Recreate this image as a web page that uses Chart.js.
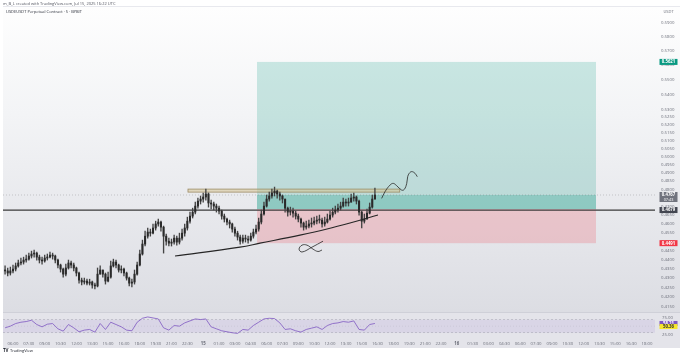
<!DOCTYPE html>
<html>
<head>
<meta charset="utf-8">
<script src="https://cdn.jsdelivr.net/npm/chart.js@4.4.1/dist/chart.umd.min.js"></script>
<style>
  body { margin:0; width:680px; height:355px; background:#fff; overflow:hidden; position:relative; }
  #bgPrice { position:absolute; left:3px; top:6px; width:677px; height:306px; border-top:1px solid #e8e9ee; box-sizing:border-box;
             background:linear-gradient(#fefefe, #f3f4f6 35%, #dcdde3); }
  #bgRsi { position:absolute; left:3px; top:312px; width:677px; height:36px; background:#e4e4ea; border-top:1px solid #cfd0d8; box-sizing:border-box; }
  canvas { position:absolute; left:0; }
  #priceChart { top:0; }
  #rsiChart { top:312px; }
</style>
</head>
<body>
<div id="bgPrice"></div>
<div id="bgRsi"></div>
<canvas id="priceChart" width="680" height="312"></canvas>
<canvas id="rsiChart" width="680" height="43"></canvas>
<script>
// 15 min candles, hours counted from Jul 14 00:00 UTC
const candleStartHour = 5.25;
const candleStepHour = 0.25;
const firstOpen = 0.4344;
const closes = [
  0.4339,0.4328,0.4339,0.4349,0.4366,0.4382,0.4387,0.4398,0.4403,0.4420,
  0.4431,0.4436,0.4414,0.4398,0.4393,0.4409,0.4414,0.4425,0.4420,0.4398,
  0.4371,0.4349,0.4322,0.4355,0.4382,0.4371,0.4355,0.4328,0.4290,0.4280,
  0.4285,0.4274,0.4280,0.4264,0.4259,0.4322,0.4344,0.4322,0.4285,0.4306,
  0.4366,0.4387,0.4371,0.4344,0.4349,0.4328,0.4301,0.4274,0.4280,0.4322,
  0.4371,0.4431,0.4486,0.4530,0.4553,0.4547,0.4576,0.4599,0.4610,0.4581,
  0.4530,0.4502,0.4491,0.4497,0.4519,0.4497,0.4519,0.4547,0.4576,0.4615,
  0.4644,0.4667,0.4702,0.4731,0.4743,0.4755,0.4773,0.4720,0.4714,0.4702,
  0.4690,0.4673,0.4644,0.4627,0.4610,0.4599,0.4570,0.4547,0.4525,0.4502,
  0.4519,0.4514,0.4508,0.4530,0.4553,0.4570,0.4610,0.4656,0.4702,0.4743,
  0.4761,0.4779,0.4790,0.4773,0.4761,0.4743,0.4690,0.4667,0.4673,0.4661,
  0.4644,0.4627,0.4604,0.4581,0.4587,0.4599,0.4604,0.4615,0.4621,0.4621,
  0.4599,0.4610,0.4627,0.4650,0.4667,0.4679,0.4690,0.4702,0.4725,0.4720,
  0.4725,0.4749,0.4755,0.4731,0.4667,0.4615,0.4627,0.4661,0.4696,0.4743,
  0.4767
];
const highs = [
  0.4366,0.4355,0.4360,0.4371,0.4382,0.4398,0.4409,0.4414,0.4425,0.4436,
  0.4447,0.4453,0.4442,0.4425,0.4414,0.4425,0.4431,0.4442,0.4436,0.4425,
  0.4403,0.4376,0.4355,0.4376,0.4398,0.4393,0.4382,0.4360,0.4333,0.4301,
  0.4301,0.4295,0.4295,0.4285,0.4274,0.4355,0.4366,0.4344,0.4328,0.4333,
  0.4393,0.4403,0.4398,0.4376,0.4366,0.4355,0.4333,0.4306,0.4295,0.4344,
  0.4387,0.4453,0.4508,0.4558,0.4576,0.4570,0.4599,0.4615,0.4627,0.4615,
  0.4587,0.4542,0.4519,0.4514,0.4536,0.4530,0.4547,0.4570,0.4599,0.4638,
  0.4667,0.4690,0.4725,0.4749,0.4761,0.4779,0.4802,0.4779,0.4737,0.4725,
  0.4714,0.4702,0.4679,0.4656,0.4633,0.4621,0.4604,0.4581,0.4558,0.4536,
  0.4536,0.4536,0.4530,0.4547,0.4570,0.4593,0.4633,0.4679,0.4725,0.4767,
  0.4784,0.4802,0.4814,0.4796,0.4784,0.4767,0.4743,0.4696,0.4696,0.4690,
  0.4673,0.4656,0.4633,0.4610,0.4615,0.4621,0.4633,0.4638,0.4644,0.4650,
  0.4633,0.4638,0.4656,0.4673,0.4690,0.4702,0.4714,0.4725,0.4749,0.4743,
  0.4749,0.4773,0.4779,0.4761,0.4737,0.4673,0.4656,0.4685,0.4720,0.4767,
  0.4808
];
const lows = [
  0.4322,0.4312,0.4317,0.4328,0.4339,0.4360,0.4371,0.4376,0.4387,0.4398,
  0.4409,0.4414,0.4398,0.4382,0.4376,0.4387,0.4398,0.4409,0.4403,0.4382,
  0.4355,0.4333,0.4306,0.4312,0.4349,0.4355,0.4339,0.4312,0.4274,0.4264,
  0.4269,0.4264,0.4264,0.4248,0.4243,0.4254,0.4322,0.4306,0.4269,0.4280,
  0.4301,0.4360,0.4355,0.4333,0.4328,0.4312,0.4290,0.4259,0.4254,0.4269,
  0.4317,0.4366,0.4425,0.4475,0.4519,0.4530,0.4542,0.4564,0.4587,0.4558,
  0.4436,0.4480,0.4475,0.4475,0.4486,0.4480,0.4486,0.4508,0.4530,0.4564,
  0.4604,0.4633,0.4656,0.4690,0.4714,0.4725,0.4737,0.4696,0.4685,0.4679,
  0.4667,0.4656,0.4627,0.4610,0.4593,0.4576,0.4553,0.4530,0.4508,0.4486,
  0.4491,0.4497,0.4491,0.4502,0.4519,0.4542,0.4558,0.4599,0.4650,0.4696,
  0.4731,0.4749,0.4761,0.4749,0.4737,0.4720,0.4667,0.4644,0.4650,0.4638,
  0.4627,0.4610,0.4581,0.4564,0.4570,0.4576,0.4581,0.4593,0.4599,0.4604,
  0.4581,0.4587,0.4604,0.4621,0.4638,0.4656,0.4667,0.4679,0.4696,0.4702,
  0.4702,0.4725,0.4731,0.4714,0.4650,0.4576,0.4604,0.4627,0.4656,0.4690,
  0.4743
];

// RSI(14), one reading every 30 min
const rsiStepHour = 0.5;
const rsiValues = [
  45,50,58,62,64,68,55,48,56,58,42,35,55,45,33,38,40,32,58,40,
  62,55,48,38,36,62,74,78,75,72,45,38,52,50,60,66,72,70,72,48,
  42,36,33,30,28,40,38,52,62,72,74,73,60,40,42,36,32,40,44,48,
  40,52,58,60,64,62,66,40,38,55,58.21
];
const rsiMaLast = 50.36;
const rsiTicks = [25, 75];

const timeLabels = ['06:00','07:30','09:00','10:30','12:00','13:30','15:00','16:30','18:00','19:30','21:00','22:30',
  '15','01:30','03:00','04:30','06:00','07:30','09:00','10:30','12:00','13:30','15:00','16:30','18:00','19:30','21:00','22:30',
  '16','01:30','03:00','04:30','06:00','07:30','09:00','10:30','12:00','13:30','15:00','16:30','18:00'];
const firstLabelHour = 6;
const labelStepHour = 1.5;

const priceTicks = [0.415,0.42,0.425,0.43,0.435,0.44,0.445,0.45,0.455,0.46,0.465,0.47,0.475,0.48,0.485,
  0.49,0.495,0.50,0.505,0.51,0.515,0.52,0.525,0.53,0.54,0.55,0.56,0.57,0.58,0.59];

// long position tool + drawings
const tpPrice = 0.5621, entryPrice = 0.4685, stopPrice = 0.4491;
const posStartHour = 29.09, posEndHour = 61.17;
const levelPrice = 0.4679;
const zoneLow = 0.4784, zoneHigh = 0.4802, zoneStartHour = 22.56, zoneEndHour = 42.6;
const trendHours = [21.33,27.48,29.37,33.16,35.72,37.89,40.54];
const trendPrices = [0.4420,0.4469,0.4491,0.4536,0.4570,0.4604,0.4650];
const alphaHours = [35.34,34.30,33.35,33.07,33.35,33.82,34.39,34.86,35.24];
const alphaPrices = [0.4502,0.4469,0.4442,0.4458,0.4480,0.4480,0.4458,0.4445,0.4453];
const arrowHours = [40.89,41.20,41.68,41.99,42.31,42.78,43.03,43.26,43.35,43.50,43.73,44.04,44.26];
const arrowPrices = [0.4747,0.4786,0.4826,0.4836,0.4822,0.4796,0.4800,0.4836,0.4876,0.4897,0.4907,0.4897,0.4876];

const xMin = 5.054, xMax = 66.755;
const yMin = 0.4124, yMax = 0.6024;
const rsiMin = 8, rsiMax = 90;

const FONT = '"Open Sans", "DejaVu Sans", sans-serif';
const axisColor = '#6a6d78';

let opens = [firstOpen].concat(closes.slice(0, -1));
let candleHours = closes.map((c, i) => candleStartHour + candleStepHour * i);
let lastClose = closes[closes.length - 1];

function noPad(s) { s.paddingTop = 0; s.paddingBottom = 0; s.paddingLeft = 0; s.paddingRight = 0; }

function drawTag(ctx, yPix, text, bg, fg, h) {
  h = h || 6;
  ctx.fillStyle = bg;
  ctx.fillRect(659.5, yPix - h / 2, 18, h);
  ctx.fillStyle = fg;
  ctx.font = 'bold 4.3px ' + FONT;
  ctx.textAlign = 'center';
  ctx.textBaseline = 'middle';
  ctx.fillText(text, 668.5, yPix + 0.2);
}

const priceOverlay = {
  id: 'priceOverlay',
  beforeDatasetsDraw(chart) {
    const {ctx, chartArea: a, scales: {x, y}} = chart;
    ctx.save();
    let x0 = x.getPixelForValue(posStartHour), x1 = x.getPixelForValue(posEndHour);
    let yTp = y.getPixelForValue(tpPrice), yEn = y.getPixelForValue(entryPrice);
    let ySl = y.getPixelForValue(stopPrice), yLast = y.getPixelForValue(lastClose);
    ctx.fillStyle = 'rgba(8,153,129,0.2)';
    ctx.fillRect(x0, yTp, x1 - x0, yEn - yTp);
    ctx.fillStyle = 'rgba(8,153,129,0.25)';
    ctx.fillRect(x0, yLast, x1 - x0, yEn - yLast);
    ctx.fillStyle = 'rgba(242,54,69,0.2)';
    ctx.fillRect(x0, yEn, x1 - x0, ySl - yEn);

    // resistance zone
    let zx0 = x.getPixelForValue(zoneStartHour), zx1 = x.getPixelForValue(zoneEndHour);
    let zy0 = y.getPixelForValue(zoneHigh), zy1 = y.getPixelForValue(zoneLow);
    ctx.fillStyle = 'rgba(214,196,150,0.55)';
    ctx.fillRect(zx0, zy0, zx1 - zx0, zy1 - zy0);
    ctx.strokeStyle = 'rgba(150,132,90,0.9)';
    ctx.lineWidth = 0.8;
    ctx.strokeRect(zx0, zy0, zx1 - zx0, zy1 - zy0);

    // horizontal level
    let yl = y.getPixelForValue(levelPrice);
    ctx.strokeStyle = '#3a3a3a';
    ctx.lineWidth = 1.2;
    ctx.beginPath(); ctx.moveTo(a.left, yl); ctx.lineTo(a.right, yl); ctx.stroke();

    // last price line
    ctx.setLineDash([1, 2]);
    ctx.strokeStyle = 'rgba(90,90,90,0.45)';
    ctx.lineWidth = 0.6;
    ctx.beginPath(); ctx.moveTo(a.left, yLast); ctx.lineTo(a.right, yLast); ctx.stroke();
    ctx.restore();
  },
  afterDraw(chart) {
    const {ctx, scales: {y}} = chart;
    ctx.save();
    ctx.textBaseline = 'middle';
    ctx.textAlign = 'left';
    ctx.font = '4px ' + FONT;
    ctx.fillStyle = '#50535e';
    ctx.fillText('m_B_L created with TradingView.com, Jul 15, 2025 16:22 UTC', 3, 3.5);
    ctx.fillStyle = '#2a2e39';
    ctx.fillText('USDEUSDT Perpetual Contract \u00b7 5 \u00b7 BYBIT', 6, 12);
    ctx.textAlign = 'center';
    ctx.fillStyle = axisColor;
    ctx.fillText('USDT', 668.5, 12);

    drawTag(ctx, y.getPixelForValue(tpPrice), tpPrice.toFixed(4), '#089981', '#fff');
    let yLast = y.getPixelForValue(lastClose);
    ctx.fillStyle = '#70737d';
    ctx.fillRect(659.5, yLast - 3, 18, 10);
    ctx.fillStyle = '#fff';
    ctx.font = 'bold 4.3px ' + FONT;
    ctx.fillText(lastClose.toFixed(4), 668.5, yLast + 0.2);
    ctx.font = '3.8px ' + FONT;
    ctx.fillText('07:43', 668.5, yLast + 4.5);
    drawTag(ctx, y.getPixelForValue(levelPrice), levelPrice.toFixed(4), '#434651', '#fff');
    drawTag(ctx, y.getPixelForValue(stopPrice), stopPrice.toFixed(4), '#f23645', '#fff');
    ctx.restore();
  }
};

new Chart(document.getElementById('priceChart'), {
  type: 'bar',
  data: {
    datasets: [
      { type: 'line', data: trendHours.map((h, k) => ({x: h, y: trendPrices[k]})),
        borderColor: '#262626', borderWidth: 1.1, pointRadius: 0, tension: 0.4 },
      { type: 'line', data: alphaHours.map((h, k) => ({x: h, y: alphaPrices[k]})),
        borderColor: '#262626', borderWidth: 0.8, pointRadius: 0, tension: 0.4 },
      { type: 'line', data: arrowHours.map((h, k) => ({x: h, y: arrowPrices[k]})),
        borderColor: '#262626', borderWidth: 0.8, pointRadius: 0, tension: 0.4 },
      { label: 'body', data: candleHours.map((h, i) => ({x: h, y: [opens[i], closes[i]]})),
        backgroundColor: '#2a2a2a', barThickness: 1.4, minBarLength: 1, grouped: false },
      { label: 'wick', data: candleHours.map((h, i) => ({x: h, y: [lows[i], highs[i]]})),
        backgroundColor: '#444', barThickness: 0.7, grouped: false }
    ]
  },
  options: {
    responsive: false,
    animation: false,
    layout: { padding: { left: 3, top: 6, right: 0, bottom: 0 } },
    plugins: { legend: { display: false }, tooltip: { enabled: false } },
    scales: {
      x: { type: 'linear', min: xMin, max: xMax, offset: false, display: false },
      y: {
        type: 'logarithmic', position: 'right', min: yMin, max: yMax, bounds: 'data', beginAtZero: false,
        grid: { display: false, drawTicks: false }, border: { display: false },
        afterBuildTicks: s => { s.ticks = priceTicks.map(v => ({value: v})); },
        afterFit: s => { s.width = 25; noPad(s); },
        ticks: { autoSkip: false, padding: 6, color: axisColor, font: { size: 4.3, family: FONT },
                 callback: v => Number(v).toFixed(4) }
      }
    }
  },
  plugins: [priceOverlay]
});

const rsiOverlay = {
  id: 'rsiOverlay',
  beforeDatasetsDraw(chart) {
    const {ctx, chartArea: a, scales: {y}} = chart;
    ctx.save();
    let y70 = y.getPixelForValue(70), y30 = y.getPixelForValue(30), y50 = y.getPixelForValue(50);
    ctx.fillStyle = 'rgba(126,87,194,0.1)';
    ctx.fillRect(a.left, y70, a.right - a.left, y30 - y70);
    ctx.strokeStyle = 'rgba(120,123,134,0.6)';
    ctx.lineWidth = 0.5;
    ctx.setLineDash([2, 2]);
    [y70, y30].forEach(v => { ctx.beginPath(); ctx.moveTo(a.left, v); ctx.lineTo(a.right, v); ctx.stroke(); });
    ctx.strokeStyle = 'rgba(120,123,134,0.3)';
    ctx.setLineDash([1, 2]);
    ctx.beginPath(); ctx.moveTo(a.left, y50); ctx.lineTo(a.right, y50); ctx.stroke();
    ctx.restore();
  },
  afterDraw(chart) {
    const {ctx, scales: {y}} = chart;
    ctx.save();
    let rsiLast = rsiValues[rsiValues.length - 1];
    drawTag(ctx, y.getPixelForValue(rsiLast), rsiLast.toFixed(2), '#7e57c2', '#fff', 5);
    drawTag(ctx, y.getPixelForValue(rsiMaLast) + 0.5, rsiMaLast.toFixed(2), '#f5e52d', '#333', 5);
    // footer logo
    ctx.fillStyle = '#131722';
    ctx.font = 'bold 4.5px ' + FONT;
    ctx.textAlign = 'left';
    ctx.textBaseline = 'middle';
    ctx.fillText('TV', 3, 38.5);
    ctx.font = '4px ' + FONT;
    ctx.fillText('TradingView', 10, 38.5);
    ctx.restore();
  }
};

new Chart(document.getElementById('rsiChart'), {
  type: 'line',
  data: {
    datasets: [{
      data: rsiValues.map((v, k) => ({x: candleStartHour + rsiStepHour * k, y: v})),
      borderColor: '#7e57c2', borderWidth: 0.8, pointRadius: 0, tension: 0
    }]
  },
  options: {
    responsive: false,
    animation: false,
    layout: { padding: { left: 3, top: 1, right: 0, bottom: 7 } },
    plugins: { legend: { display: false }, tooltip: { enabled: false } },
    scales: {
      x: {
        type: 'linear', min: xMin, max: xMax,
        grid: { display: false, drawTicks: false }, border: { display: false },
        afterBuildTicks: s => { s.ticks = timeLabels.map((_, k) => ({value: firstLabelHour + labelStepHour * k})); },
        afterFit: s => { s.height = 8; noPad(s); },
        ticks: {
          autoSkip: false, maxRotation: 0, padding: 1, color: axisColor,
          font: c => ({ size: 4.3, family: FONT, weight: (c.tick && c.tick.value % 24 === 0) ? 'bold' : 'normal' }),
          callback: (v, i) => timeLabels[i]
        }
      },
      y: {
        position: 'right', min: rsiMin, max: rsiMax,
        grid: { display: false, drawTicks: false }, border: { display: false },
        afterBuildTicks: s => { s.ticks = rsiTicks.map(v => ({value: v})); },
        afterFit: s => { s.width = 25; noPad(s); },
        ticks: { padding: 7, color: axisColor, font: { size: 4.3, family: FONT }, callback: v => Number(v).toFixed(2) }
      }
    }
  },
  plugins: [rsiOverlay]
});
</script>
</body>
</html>
